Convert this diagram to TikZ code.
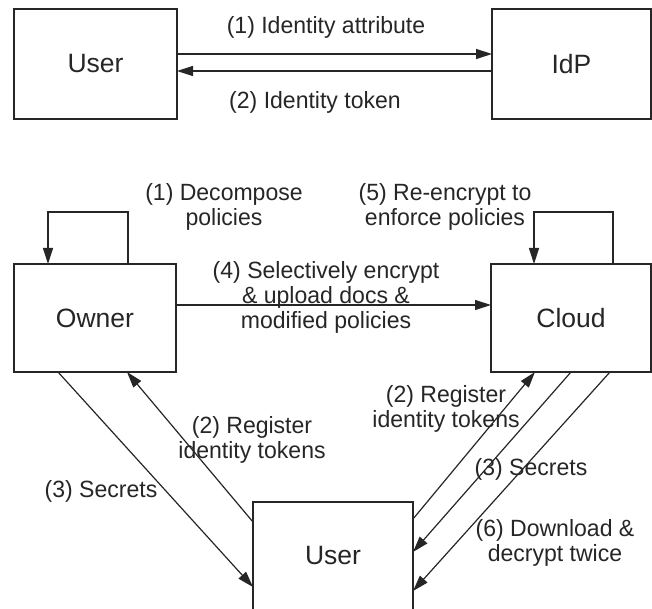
\documentclass[tikz,border=0pt]{standalone}
\usepackage{fontspec}
\setmainfont{Liberation Sans}
\newfontfamily\lblfont{Liberation Sans}[FakeStretch=0.98]
\usepackage{tikz}
\usetikzlibrary{arrows.meta,calc,positioning}
\definecolor{inkgray}{HTML}{262626}
\tikzset{
  box/.style={draw=inkgray, line width=1.2pt, inner sep=0pt, outer sep=0pt, text=inkgray, font=\fontsize{26.5}{30}\selectfont},
  lbl/.style={align=center, inner sep=0pt, text=inkgray, font=\lblfont\fontsize{23.5}{25}\selectfont},
  flow/.style={draw=inkgray, line width=1.2pt, -{Triangle[length=16pt,width=10pt]}}
}
\begin{document}
\begin{tikzpicture}[x=1pt,y=-1pt]
        \useasboundingbox (0,0) rectangle (652,609);
        % identity provider
        \node[box, minimum width=163pt, minimum height=110pt] (user) at (95.5,64) {User};
        \node[box, minimum width=159pt, minimum height=110pt] (idp) at (571.5,64) {IdP};
        \draw[flow] ([yshift=10pt]user.east) -- ([yshift=10pt]idp.west);
        \draw[flow] ([yshift=-7pt]idp.west) -- ([yshift=-7pt]user.east);
        \node[lbl] (attr) at (326,27) {(1) Identity attribute};
        \node[lbl] (token) at (315,102) {(2) Identity token};
        % owner, cloud and user
        \node[box, minimum width=162pt, minimum height=108pt] (owner) at (95,318) {Owner};
        \node[box, minimum width=160pt, minimum height=108pt] (cloud) at (571,318) {Cloud};
        \node[box, minimum width=160pt, minimum height=138pt, text depth=32pt] (client) at (333,571) {User};
        \draw[flow] ([xshift=33pt]owner.north) -- ++(0,-52) -| ([xshift=-47pt]owner.north);
        \draw[flow] ([xshift=42pt]cloud.north) -- ++(0,-52) -| ([xshift=-37pt]cloud.north);
        \draw[flow] ([yshift=13pt]owner.east) -- ([yshift=13pt]cloud.west);
        \draw[flow] ([xshift=-37pt]owner.south) -- ([yshift=-16pt]client.west);
        \draw[flow] ([yshift=49pt]client.west) -- ([xshift=32pt]owner.south);
        \draw[flow] ([yshift=52pt]client.east) -- ([xshift=-36pt]cloud.south);
        \draw[flow] (cloud.south) -- ([yshift=19pt]client.east);
        \draw[flow] ([xshift=39pt]cloud.south) -- ([yshift=-20pt]client.east);
        \node[lbl] (decomp) at (224,207) {(1) Decompose\\policies};
        \node[lbl] (reenc) at (445,207) {(5) Re-encrypt to\\enforce policies};
        \node[lbl] (upload) at (326,297) {(4) Selectively encrypt\\\& upload docs \&\\modified policies};
        \node[lbl] (secl) at (101,491) {(3) Secrets};
        \node[lbl] (regl) at (252,440) {(2) Register\\identity tokens};
        \node[lbl] (regr) at (446,409) {(2) Register\\identity tokens};
        \node[lbl] (secr) at (531,469) {(3) Secrets};
        \node[lbl] (down) at (555,543) {(6) Download \&\\decrypt twice};
    \end{tikzpicture}
\end{document}
